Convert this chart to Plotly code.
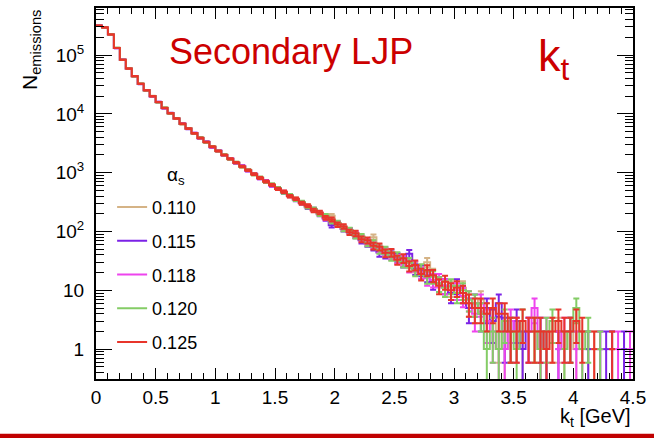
import numpy as np
import plotly.graph_objects as go

# ---- binning: 90 bins of 0.05 GeV between 0 and 4.5 GeV ----
kt_min, kt_max, n_bins = 0.0, 4.5, 90

alpha_labels = ["0.110", "0.115", "0.118", "0.120", "0.125"]
colors = ["#d5b386", "#7b22e6", "#ee44ee", "#84cc66", "#e8352b"]

# emissions per kt bin for each alpha_s sample
n_0110 = [314900, 294300, 225100, 132600, 82750, 59240, 43390, 32590, 24940, 20130,
          15710, 12700, 10130, 8405, 6709, 5681, 4634, 3937, 3276, 2793,
          2318, 2021, 1698, 1501, 1255, 1115, 929, 830, 694, 633,
          533, 470, 404, 358, 311, 272, 232, 203, 182, 185,
          137, 119, 101, 87, 80, 69, 80, 53, 45, 40,
          35, 31, 29, 25, 20, 30, 19, 13, 12, 11,
          10, 11, 6, 5, 7, 4, 3, 2, 1, 2,
          2, 1, 0, 2, 1, 1, 2, 2, 1, 2,
          1, 0, 1, 1, 0, 0, 1, 0, 0, 0]
n_0115 = [317500, 296200, 222800, 131200, 83560, 58550, 43880, 32150, 25290, 19810,
          15960, 12490, 10320, 8250, 6815, 5575, 4720, 3851, 3349, 2718,
          2373, 1970, 1740, 1455, 1297, 1079, 959, 798, 721, 603,
          541, 459, 410, 345, 306, 258, 239, 196, 165, 128,
          133, 110, 104, 86, 71, 63, 55, 44, 41, 43,
          37, 30, 42, 23, 22, 18, 14, 13, 12, 9,
          12, 9, 5, 6, 4, 5, 3, 6, 2, 2,
          3, 1, 2, 0, 2, 1, 0, 1, 0, 2,
          0, 0, 1, 0, 1, 1, 1, 0, 1, 0]
n_0118 = [316900, 295600, 223400, 131500, 83420, 58710, 43790, 32240, 25210, 19870,
          15920, 12530, 10290, 8281, 6792, 5598, 4702, 3868, 3335, 2736,
          2361, 1982, 1731, 1465, 1288, 1087, 953, 805, 716, 609,
          531, 472, 401, 350, 312, 266, 230, 207, 169, 152,
          138, 114, 99, 92, 76, 66, 58, 50, 47, 39,
          34, 33, 25, 26, 20, 16, 15, 15, 12, 10,
          10, 8, 7, 4, 6, 3, 2, 1, 1, 3,
          2, 0, 2, 5, 1, 2, 0, 1, 2, 0,
          1, 1, 0, 0, 1, 0, 0, 1, 0, 1]
n_0120 = [315400, 294700, 224600, 132300, 82900, 59130, 43480, 32510, 25010, 20080,
          15770, 12660, 10170, 8372, 6730, 5660, 4651, 3921, 3290, 2781,
          2329, 2011, 1706, 1492, 1262, 1108, 935, 824, 699, 628,
          545, 461, 415, 348, 317, 262, 241, 198, 185, 149,
          140, 112, 106, 85, 82, 64, 63, 49, 48, 38,
          38, 30, 30, 22, 23, 17, 17, 13, 11, 12,
          9, 10, 7, 6, 4, 1, 2, 1, 3, 2,
          1, 3, 0, 2, 1, 2, 3, 0, 1, 2,
          5, 1, 2, 0, 1, 0, 0, 0, 0, 0]
n_0125 = [316200, 295100, 223900, 131800, 83180, 58880, 43650, 32360, 25120, 19950,
          15850, 12590, 10230, 8318, 6761, 5623, 4677, 3890, 3311, 2754,
          2344, 1995, 1718, 1479, 1274, 1096, 944, 813, 708, 617,
          529, 475, 399, 361, 302, 275, 228, 210, 171, 160,
          131, 122, 97, 93, 74, 71, 57, 55, 43, 44,
          33, 35, 26, 27, 19, 22, 18, 12, 14, 10,
          11, 9, 6, 5, 5, 4, 5, 4, 4, 2,
          2, 3, 2, 2, 2, 1, 2, 3, 2, 2,
          3, 2, 0, 1, 0, 0, 1, 0, 0, 0]

series = [n_0110, n_0115, n_0118, n_0120, n_0125]

x_ticks = [0, 0.5, 1, 1.5, 2, 2.5, 3, 3.5, 4, 4.5]
x_ticktext = ["0", "0.5", "1", "1.5", "2", "2.5", "3", "3.5", "4", "4.5"]
y_ticks = [1, 10, 100, 1000, 10000, 100000]
y_ticktext = ["1", "10", "10<sup>2</sup>", "10<sup>3</sup>", "10<sup>4</sup>", "10<sup>5</sup>"]

edges = np.linspace(kt_min, kt_max, n_bins + 1)
centers = 0.5 * (edges[:-1] + edges[1:])

FONT = "Liberation Sans, Arial, Helvetica, sans-serif"

fig = go.Figure()


def step_coords(counts):
    """Histogram outline: flat top per bin, joined by vertical risers, broken at empty bins."""
    xs, ys = [], []
    for i, n in enumerate(counts):
        if n > 0:
            xs += [edges[i], edges[i + 1]]
            ys += [n, n]
        else:
            xs.append(edges[i])
            ys.append(None)
    return xs, ys


for label, color, counts in zip(alpha_labels, colors, series):
    counts = np.asarray(counts, dtype=float)
    xs, ys = step_coords(counts)
    fig.add_trace(go.Scatter(
        x=xs, y=ys, mode="lines", name=label, legendgroup=label,
        line=dict(color=color, width=2), connectgaps=False,
        hoverinfo="skip",
    ))
    filled = counts > 0
    err = np.sqrt(counts[filled])
    err_lo = np.minimum(err, counts[filled] * (1 - 1e-6))
    fig.add_trace(go.Scatter(
        x=centers[filled], y=counts[filled], mode="markers",
        marker=dict(size=1, color=color, opacity=0), showlegend=False, legendgroup=label,
        error_y=dict(type="data", symmetric=False, array=err, arrayminus=err_lo,
                     color=color, thickness=2, width=3),
        hoverinfo="skip",
    ))

y_minor = [m * 10.0 ** k for k in range(-1, 6) for m in range(2, 10)]

fig.update_layout(
    width=654, height=438,
    margin=dict(l=96, r=21, t=6, b=59),
    paper_bgcolor="white", plot_bgcolor="white",
    font=dict(family=FONT, size=18, color="black"),
    showlegend=True,
    legend=dict(
        x=0.03, y=0.513, xanchor="left", yanchor="top",
        bgcolor="rgba(0,0,0,0)", font=dict(family=FONT, size=18),
        traceorder="grouped", tracegroupgap=7.4, itemwidth=30,
    ),
    xaxis=dict(
        range=[kt_min, kt_max], tickvals=x_ticks, ticktext=x_ticktext,
        ticks="inside", ticklen=11, tickwidth=1, tickcolor="black",
        showline=True, linewidth=2, linecolor="black", mirror="allticks",
        showgrid=False, zeroline=False, tickfont=dict(family=FONT, size=19),
        minor=dict(dtick=0.1, ticks="inside", ticklen=6, tickwidth=1, tickcolor="black"),
    ),
    yaxis=dict(
        type="log", range=[-0.508, 5.80], tickvals=y_ticks, ticktext=y_ticktext,
        ticks="inside", ticklen=16, tickwidth=1, tickcolor="black",
        showline=True, linewidth=2, linecolor="black", mirror="allticks",
        showgrid=False, zeroline=False, tickfont=dict(family=FONT, size=19),
        ticklabelstandoff=6,
        minor=dict(tickvals=y_minor, ticks="inside", ticklen=8, tickwidth=1, tickcolor="black"),
    ),
)

# legend heading
fig.add_annotation(text="α<sub>s</sub>", xref="paper", yref="paper",
                   x=0.149, y=0.546, xanchor="center", yanchor="middle", showarrow=False,
                   font=dict(family=FONT, size=19, color="black"))

# title texts
fig.add_annotation(text="Secondary LJP", xref="paper", yref="paper",
                   x=0.363, y=0.882, xanchor="center", yanchor="middle", showarrow=False,
                   font=dict(family=FONT, size=36, color="#cc0000"))
fig.add_annotation(text="k<sub>t</sub>", xref="paper", yref="paper",
                   x=0.82, y=0.865, xanchor="left", yanchor="middle", showarrow=False,
                   font=dict(family=FONT, size=45, color="#cc0000"))

# axis titles
fig.add_annotation(text="k<sub>t</sub> [GeV]", xref="paper", yref="paper",
                   x=1.0, y=-0.104, xanchor="right", yanchor="middle", showarrow=False,
                   font=dict(family=FONT, size=20, color="black"))
fig.add_annotation(text="N<sub>emissions</sub>", xref="paper", yref="paper",
                   x=-0.121, y=1.0, xanchor="center", yanchor="top", textangle=-90,
                   showarrow=False, font=dict(family=FONT, size=21, color="black"))

# red rule along the bottom of the page
fig.add_shape(type="rect", xref="paper", yref="paper",
              x0=-0.2, x1=1.1, y0=-0.1475, y1=-0.17,
              fillcolor="#c00000", line=dict(width=0), layer="above")

fig.write_html("out.html")
